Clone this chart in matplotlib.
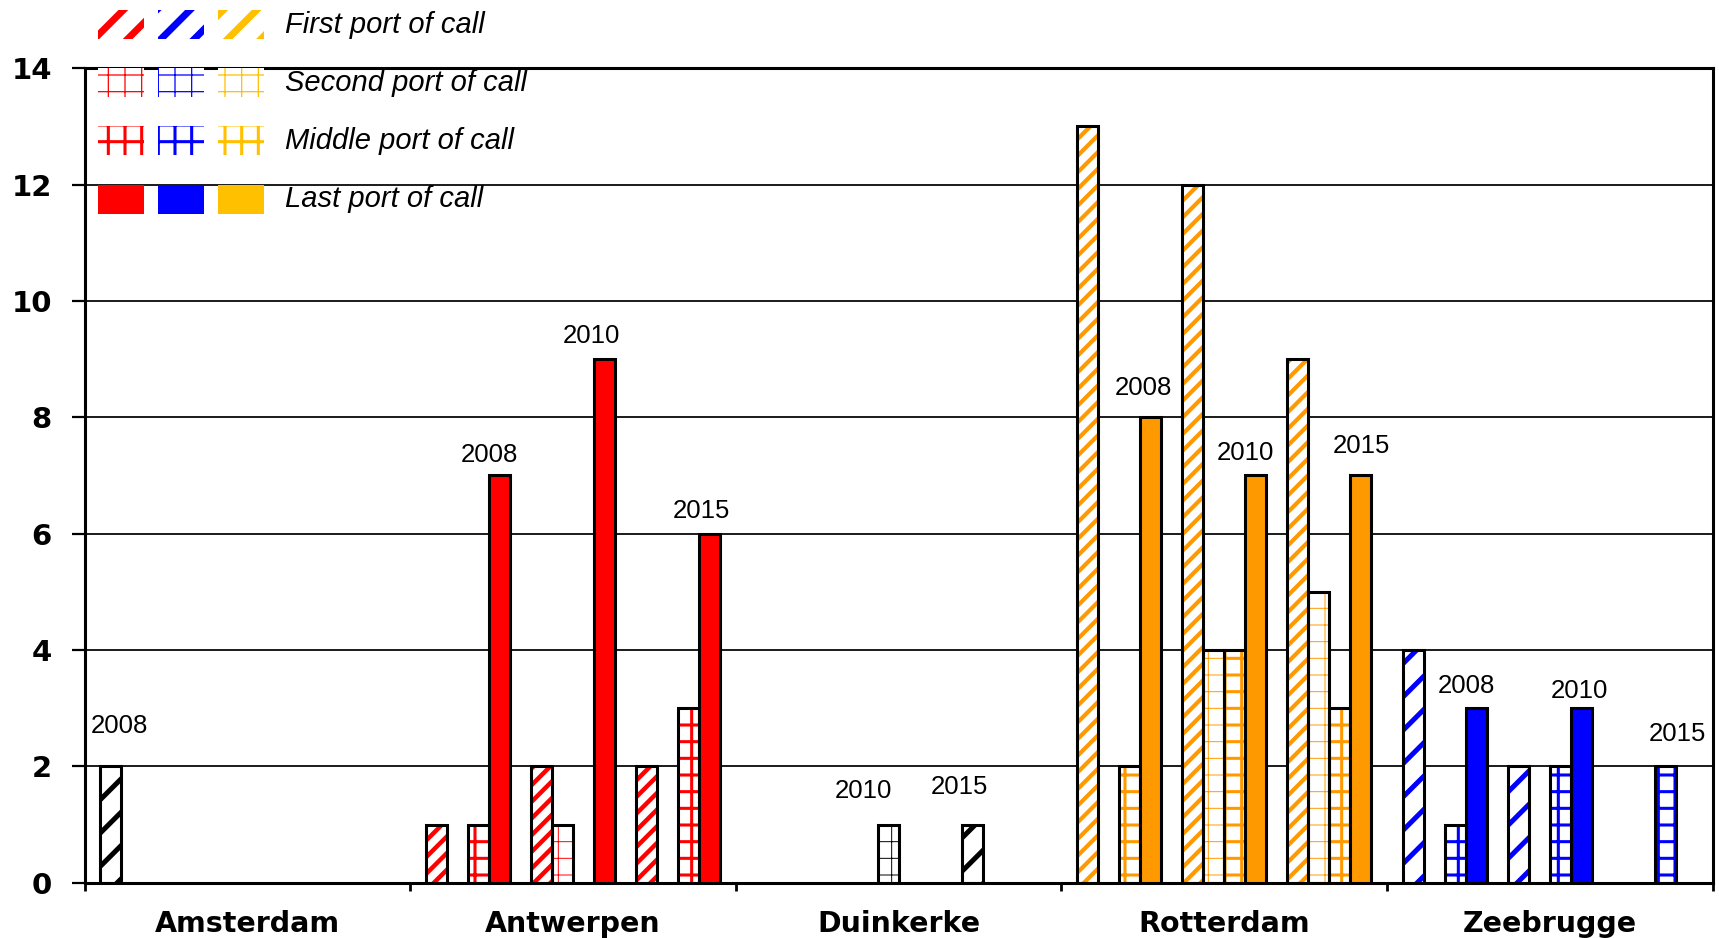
import numpy as np
import matplotlib
matplotlib.use("Agg")
import matplotlib.pyplot as plt
from matplotlib.patches import Rectangle

ports = ["Amsterdam", "Antwerpen", "Duinkerke", "Rotterdam", "Zeebrugge"]
years = ["2008", "2010", "2015"]
call_types = ["First port of call", "Second port of call",
              "Middle port of call", "Last port of call"]

# Ship calls per port: one row per year, columns follow call_types
amsterdam = [[2, 0, 0, 0], [0, 0, 0, 0], [0, 0, 0, 0]]
antwerpen = [[1, 0, 1, 7], [2, 1, 0, 9], [2, 0, 3, 6]]
duinkerke = [[0, 0, 0, 0], [0, 1, 0, 0], [1, 0, 0, 0]]
rotterdam = [[13, 0, 2, 8], [12, 4, 4, 7], [9, 5, 3, 7]]
zeebrugge = [[4, 0, 1, 3], [2, 0, 2, 3], [0, 0, 2, 0]]
calls = [amsterdam, antwerpen, duinkerke, rotterdam, zeebrugge]

port_colors = ["black", "#FF0000", "black", "#FF9900", "#0000FF"]
legend_colors = ["#FF0000", "#0000FF", "#FFC000"]

# hatch pattern and hatch line width for each call type (None = solid)
type_styles = [("/", 3.2), ("+", 0.7), ("+", 2.2), (None, 0)]
# stripe density and width of the diagonal hatch, per port
stripe_hatch = ["/", "//", "/", "//", "/"]
stripe_width = [3.6, 3.2, 3.6, 3.0, 3.6]

# year captions: (port index, year index) -> position in data units
year_label_pos = {
    (0, 0): (0.108, 2.70),
    (1, 0): (1.242, 7.35), (1, 1): (1.558, 9.39), (1, 2): (1.895, 6.39),
    (2, 1): (2.393, 1.57), (2, 2): (2.686, 1.64),
    (3, 0): (3.252, 8.50), (3, 1): (3.565, 7.39), (3, 2): (3.922, 7.50),
    (4, 0): (4.245, 3.38), (4, 1): (4.592, 3.30), (4, 2): (4.891, 2.56),
}

W, H = 1719, 938
fig = plt.figure(figsize=(W / 100, H / 100), dpi=100)
ax = fig.add_axes([84.5 / W, 1 - 882.7 / H, (1712.7 - 84.5) / W, (882.7 - 68.3) / H])

units = 15.5            # slot units per port group
bw = 1 / units


def make_bar(x, h, **kw):
    return ax.bar(x, h, width=bw, align="edge", **kw)


for pi, port in enumerate(ports):
    col = port_colors[pi]
    for yi in range(len(years)):
        for ti in range(len(call_types)):
            v = calls[pi][yi][ti]
            if v <= 0:
                continue
            slot = yi * 5 + ti
            x = pi + (0.75 + slot) / units
            hatch, hlw = type_styles[ti]
            if hatch is None:
                make_bar(x, v, color=col, edgecolor="black", linewidth=2.2, zorder=3)
            else:
                if ti == 0:
                    hatch, hlw = stripe_hatch[pi], stripe_width[pi]
                with plt.rc_context({"hatch.linewidth": hlw}):
                    bars = make_bar(x, v, facecolor="white", edgecolor=col,
                                    hatch=hatch, linewidth=0, zorder=2)
                for b in bars:
                    if hasattr(b, "set_hatch_linewidth"):
                        b.set_hatch_linewidth(hlw)
                make_bar(x, v, facecolor="none", edgecolor="black",
                         linewidth=2.2, zorder=3)

for (pi, yi), (lx, ly) in year_label_pos.items():
    ax.text(lx, ly, years[yi], ha="center", va="center",
            fontsize=18.5, family="Liberation Sans", zorder=5)

ax.set_xlim(0, len(ports))
ax.set_ylim(0, 14)
ax.set_yticks(np.arange(0, 15, 2))
ax.set_yticklabels([str(v) for v in range(0, 15, 2)],
                   fontsize=21, fontweight="bold", family="DejaVu Sans")
ax.tick_params(axis="y", length=9.5, width=1.6, pad=14, direction="out")
ax.set_xticks(np.arange(0, len(ports) + 1))
ax.set_xticklabels([])
ax.set_xticks(np.arange(len(ports)) + 0.5, minor=True)
ax.set_xticklabels(ports, minor=True, fontsize=20.5, fontweight="bold",
                   family="DejaVu Sans")
ax.tick_params(axis="x", which="major", length=6, width=2, direction="out")
ax.tick_params(axis="x", which="minor", length=0, pad=20)
ax.yaxis.grid(True, color="#1a1a1a", linewidth=1.4, zorder=0.5)
ax.set_axisbelow(True)
for s in ax.spines.values():
    s.set_linewidth(2.2)
    s.set_color("black")

# legend built from swatches in figure pixels
swatch_x = [98.3, 158.3, 218.3]
row_y = [25, 83, 141, 199]
sw_w, sw_h = 46, 29
legend_hatch = ["/", "+", "+", None]
legend_hlw = [5.0, 0.9, 2.2, 0]
for ti, label in enumerate(call_types):
    hatch, lw = legend_hatch[ti], legend_hlw[ti]
    for ci, c in enumerate(legend_colors):
        x0 = swatch_x[ci] / W
        y0 = 1 - (row_y[ti] + sw_h / 2) / H
        if hatch is None:
            r = Rectangle((x0, y0), sw_w / W, sw_h / H, transform=fig.transFigure,
                          facecolor=c, edgecolor="none", zorder=6)
        else:
            with plt.rc_context({"hatch.linewidth": lw}):
                r = Rectangle((x0, y0), sw_w / W, sw_h / H, transform=fig.transFigure,
                              facecolor="white", edgecolor=c, hatch=hatch,
                              linewidth=0, zorder=6)
            if hasattr(r, "set_hatch_linewidth"):
                r.set_hatch_linewidth(lw)
        fig.add_artist(r)
    fig.text(285 / W, 1 - row_y[ti] / H, label, ha="left", va="center",
             fontsize=21, style="italic", family="Liberation Sans", zorder=7)

fig.savefig("out.png", dpi=100, facecolor="white")
